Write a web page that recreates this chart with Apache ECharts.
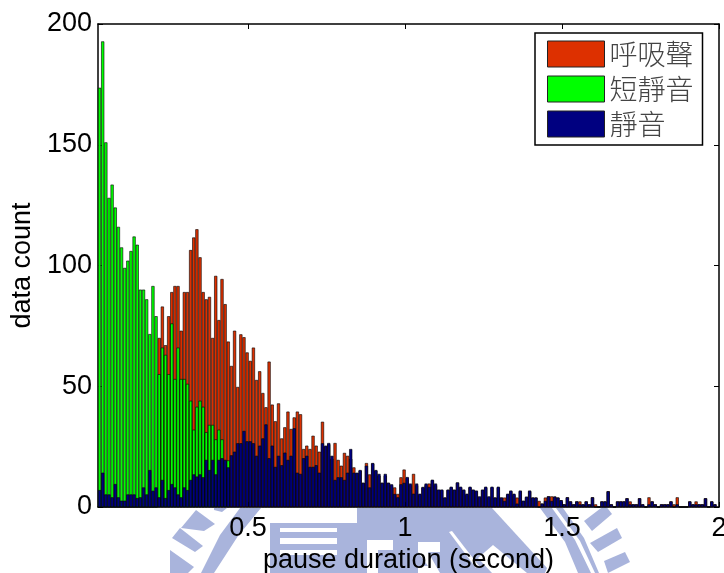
<!DOCTYPE html>
<html>
<head>
<meta charset="utf-8">
<style>html,body{margin:0;padding:0;background:#fff;overflow:hidden}#c{width:724px;height:573px}</style>
<script src="https://cdn.jsdelivr.net/npm/echarts@6/dist/echarts.min.js"></script>
</head>
<body>
<div id="c"></div>
<script>
const seriesNames = ['呼吸聲', '短靜音', '靜音'];
const xTicks = [0.5, 1, 1.5, 2];
const firstBinCentre = 0.027;
const binStep = 0.01;
const redVals = [
0,0,0,0,0,0,0,0,0,0,
0,0,0,0,0,0,0,0,0,70,
83,67,79,89,91.5,91.5,73,89,89,106.4,
111.6,115,103.4,89,86,87,70,95.7,77.4,94.4,
84,68.5,58.4,73,49.7,71.5,70.3,64,60.5,66,
52.6,56.2,47.2,41.3,60.2,42.4,35.5,42.9,28.4,33,
39.5,32.3,37.1,39.5,38.4,24,25.4,24,29.5,25.4,
22.9,35.3,25,26,20,26.5,19.5,17.1,22.4,21.2,
20,16.4,14,15,10,18.2,13.5,18,15,13,
10,13,10,9,8.1,5.4,12.3,15.5,12,9,
13.7,9,5,8,9,9.7,11,9,7,7,
3.9,7,8,7,10,8,7,5,8,7,
6.5,4,7,8,4,8,3.9,8,3.9,3.9,
5,6.5,5,3.9,6.5,2.5,4,6.5,3.9,3.9,
2.5,1.4,3.9,4.4,4.4,4.3,3.9,2.8,1.1,4,
2.3,1.1,2.3,2.3,1.1,2.3,1.1,4,1.1,0,
2.3,2.3,6.5,1.1,0,2.3,2.3,2.3,3.6,2.3,
1.1,1.1,3.6,1.1,0,4,2.3,1.1,0,1.1,
1.1,1.1,2.3,1.1,4,0,0,0,2.3,1.1,
2.3,1.1,1.1,3.6,0,2.3,1.1];
const greenVals = [
173.6,192.8,151,128,133.5,124,116,107.5,99,102,
106,112,108.6,90,90,86,71.6,91.5,79,55,
66,63,55,76,53,66,53,53,51,44,
32,41.5,44,41.5,31,34,34,28,32,28,
19,19.3];
const blueVals = [
7,14.2,5.2,5.2,4,9.5,4,2.6,2.6,5.2,
5.2,5.2,3.7,4,8.1,5.2,15.3,6.7,8.1,4,
11.2,3.7,7,9.5,8.1,5.2,4,8.1,7,11.2,
13.5,12.6,13.5,12.3,19.5,15.3,19.5,13.5,19.5,20.2,
19.5,16.4,21.4,22.9,26.4,26.4,31.5,27.2,27.2,26.4,
21.2,25.4,28.4,34.2,20.2,25.4,16.6,21.2,17.3,22.5,
19.5,21.2,32.6,14.2,13.7,20.2,21.2,16.6,16.6,17.3,
14.2,26.4,25.4,26.5,21.2,11.2,12.3,12.3,11.2,14.2,
24,14.2,14.2,15.3,10,17.1,8.1,18.2,15.3,13.7,
10,13.7,10,9.4,5.4,4,9.4,10,12.4,9.7,
5.5,9.7,5.5,8.3,9.7,8.3,11.3,9.7,7.2,7.2,
3.9,7.2,8.4,7.2,10.2,8.4,7.2,5.5,8.4,7.2,
6.8,4.4,7.2,8.4,4.4,8.4,3.9,8.4,3.9,2.5,
5.5,6.8,5.5,1.4,6.8,2.6,4.3,6.8,3.9,3.9,
0,1.4,2.5,4.4,2.5,4.3,3.9,2.8,1.1,4,
2.3,1.1,2.3,1.1,1.1,2.3,1.1,4,0,0,
2.3,2.3,6.5,1.1,0,2.3,2.3,2.3,3.6,1.1,
1.1,1.1,3.6,1.1,0,1.1,2.3,1.1,0,1.1,
1.1,1.1,2.3,0,1.1,0,0,0,2.3,1.1,
1.1,1.1,1.1,3.6,0,2.3,1.1];

const toPairs = vals => vals.map((v, i) => [firstBinCentre + i * binStep, v]);
const fontLatin = '"Liberation Sans", Arial, sans-serif';
const mark = '#a9b4dc';
const poly = (pts, fill) => ({type:'polygon', silent:true, z:-10, shape:{points:pts}, style:{fill:fill || mark}});
const wm = [
  // ring and spokes, left
  poly([[240,508],[261,508],[238,536],[214,573],[201,573],[220,535]]),
  poly([[181,528],[196,510],[215,524],[204,531]]),
  poly([[172,538],[180,528],[203,546],[195,552]]),
  poly([[170,550],[194,567],[188,573],[170,573]]),
  poly([[214,508],[227,508],[222,512],[214,510]]),
  // building
  poly([[270,523],[357,523],[357,508],[370,508],[370,573],[270,573]]),
  poly([[280,528],[337,528],[337,532],[280,532]],'#fff'),
  poly([[280,538],[337,538],[337,544],[280,544]],'#fff'),
  poly([[280,550],[337,550],[337,555],[280,555]],'#fff'),
  // central block
  poly([[370,508],[492,508],[547,568],[545,573],[370,573]]),
  poly([[367,540],[393,540],[393,550],[378,550],[378,573],[367,573]],'#fff'),
  poly([[418,542],[440,542],[440,552],[428,552],[440,573],[418,573],[418,566],[428,566],[418,552]],'#fff'),
  poly([[449,532],[452,531],[479,566],[476,568]],'#fff'),
  poly([[493,545],[527,573],[492,573],[478,558]],'#fff'),
  // ring and spokes, right
  poly([[540,508],[552,508],[575,540],[591,573],[578,573],[565,542]]),
  poly([[556,508],[563,508],[584,538],[599,573],[595,573],[580,541]]),
  poly([[584,521],[605,505],[612,514],[592,531]]),
  poly([[590,543],[617,528],[622,538],[598,552]]),
  poly([[604,561],[625,552],[630,562],[608,573]])
];

const chart = echarts.init(document.getElementById('c'), null, {renderer:'canvas'});
const barBase = {type:'bar', barWidth:3.14, barGap:'-100%', animation:false};
const barStyle = c => ({color:c, borderColor:'#000', borderWidth:0.6});
chart.setOption({
  animation:false,
  backgroundColor:'#fff',
  graphic:{elements:wm},
  grid:{left:98, right:5, top:24, bottom:66, outerBoundsMode:'none', show:true, backgroundColor:'#fff', borderWidth:0},
  legend:{
    data:seriesNames, orient:'vertical', left:535, top:33, align:'left',
    padding:[7,9,7,12], itemGap:7, itemWidth:57, itemHeight:26, itemStyle:{borderColor:'#222', borderWidth:1},
    backgroundColor:'#fff', borderColor:'#000', borderWidth:1.5, borderRadius:0,
    icon:'rect', selectedMode:false,
    textStyle:{fontFamily:'"Noto Sans CJK TC"', fontSize:28, fontWeight:300, color:'#444', lineHeight:26}
  },
  xAxis:[{
    type:'value', min:0.022, max:2, position:'bottom',
    name:'pause duration (second)', nameLocation:'middle', nameGap:40,
    nameTextStyle:{fontFamily:fontLatin, fontSize:27, color:'#000'},
    axisLine:{onZero:false, lineStyle:{color:'#000', width:1.5}},
    axisTick:{inside:true, length:5, customValues:xTicks, lineStyle:{color:'#000'}},
    axisLabel:{fontFamily:fontLatin, fontSize:27, color:'#000', margin:8, customValues:xTicks, formatter:v=>String(v)},
    splitLine:{show:false}
  },{
    type:'value', min:0.022, max:2, position:'top',
    axisLine:{onZero:false, lineStyle:{color:'#000', width:1.5}},
    axisTick:{inside:true, length:5, customValues:xTicks, lineStyle:{color:'#000'}},
    axisLabel:{show:false}, splitLine:{show:false}
  }],
  yAxis:[{
    type:'value', min:0, max:200, interval:50, position:'left',
    name:'data count', nameLocation:'middle', nameGap:61,
    nameTextStyle:{fontFamily:fontLatin, fontSize:27, color:'#000'},
    axisLine:{show:true, lineStyle:{color:'#000', width:1.5}},
    axisTick:{inside:true, length:5, lineStyle:{color:'#000'}},
    axisLabel:{fontFamily:fontLatin, fontSize:27, color:'#000', margin:6, padding:[4,0,0,0]},
    splitLine:{show:false}
  },{
    type:'value', min:0, max:200, interval:50, position:'right',
    axisLine:{show:true, lineStyle:{color:'#000', width:1.5}},
    axisTick:{inside:true, length:5, lineStyle:{color:'#000'}},
    axisLabel:{show:false}, splitLine:{show:false}
  }],
  series:[
    Object.assign({}, barBase, {name:seriesNames[0], data:toPairs(redVals), itemStyle:barStyle('#dd3000'), z:2}),
    Object.assign({}, barBase, {name:seriesNames[1], data:toPairs(greenVals), itemStyle:barStyle('#00ff00'), z:3}),
    Object.assign({}, barBase, {name:seriesNames[2], data:toPairs(blueVals), itemStyle:barStyle('#000080'), z:4})
  ]
});
</script>
</body>
</html>
